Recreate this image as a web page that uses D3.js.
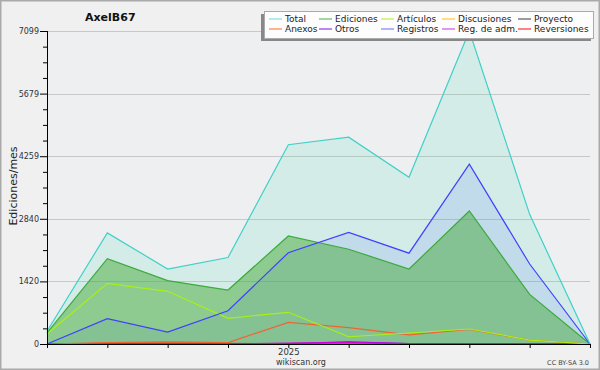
<!DOCTYPE html>
<html><head><meta charset="utf-8">
<script src="https://cdn.jsdelivr.net/npm/d3@7"></script>
<style>body{margin:0;background:#f0f0f0}svg{display:block}text{font-family:"DejaVu Sans",sans-serif}</style>
</head><body><svg id="c" width="600" height="370"></svg>
<script>
const months = ["2024-09","2024-10","2024-11","2024-12","2025-01","2025-02","2025-03","2025-04","2025-05","2025-06"];
const yTickLabels = [0, 1420, 2840, 4259, 5679, 7099];
const total      = [290, 2520, 1700, 1960, 4520, 4690, 3780, 7099, 2940, 0];
const ediciones  = [250, 1935, 1436, 1225, 2450, 2150, 1700, 3016, 1126, 0];
const registros  = [0, 575, 270, 755, 2070, 2530, 2060, 4078, 1814, 0];
const articulos  = [225, 1376, 1195, 583, 719, 165, 250, 340, 90, 0];
const anexos     = [0, 30, 50, 30, 492, 370, 205, 330, 90, 0];
const otros      = [0, 0, 0, 0, 10, 50, 10, 0, 0, 0];
const regAdm     = [0, 0, 0, 0, 20, 30, 10, 5, 0, 0];
const discusiones= [0, 0, 0, 0, 0, 0, 0, 0, 0, 0];
const proyecto   = [0, 0, 0, 0, 0, 0, 0, 0, 0, 0];
const reversiones= [0, 15, 25, 15, 0, 0, 0, 0, 0, 0];
const legendNames = ["Total","Ediciones","Artículos","Discusiones","Proyecto","Anexos","Otros","Registros","Reg. de adm.","Reversiones"];
const legendColors = ["#80e0dc","#64be64","#bef03c","#ffc832","#5a5a5a","#ff8246","#8c3ce6","#8080ff","#d250e6","#ff3232"];

const svg = d3.select("#c");
svg.append("rect").attr("x",0.75).attr("y",0.75).attr("width",598.5).attr("height",368.5)
  .attr("fill","#f0f0f0").attr("stroke","#aaa").attr("stroke-width",1.5);

const x = d3.scalePoint().domain(months).range([47, 590]);
const y = d3.scaleLinear().domain([0, 7099]).range([344, 31]);

svg.append("rect").attr("x",47).attr("y",31).attr("width",543).attr("height",313).attr("fill","#eeeff1");

// grid
svg.append("g").selectAll("line").data(yTickLabels.slice(1)).join("line")
  .attr("x1",47).attr("x2",590).attr("y1",d=>Math.round(y(d))+0.5).attr("y2",d=>Math.round(y(d))+0.5)
  .attr("stroke","#c8c8c8");

const area = vals => d3.area().x((d,i)=>x(months[i])).y0(y(0)).y1(d=>y(d))(vals);
const line = vals => d3.line().x((d,i)=>x(months[i])).y(d=>y(d))(vals);

svg.append("path").attr("d",area(total)).attr("fill","#40e0b0").attr("fill-opacity",0.15);
svg.append("path").attr("d",area(registros)).attr("fill","#4060ff").attr("fill-opacity",0.12);
svg.append("path").attr("d",area(ediciones)).attr("fill","#46aa3c").attr("fill-opacity",0.5);

const series = [
  [discusiones,"#ffc800"],[proyecto,"#555"],[reversiones,"#ff3030"],
  [otros,"#8c00e6"],[regAdm,"#dc00dc"],[anexos,"#f06432"],[articulos,"#aaf014"],
  [ediciones,"#3caa3c"],[registros,"#4040ff"],[total,"#40d0c8"]
];
svg.append("g").selectAll("path").data(series).join("path")
  .attr("d",d=>line(d[0])).attr("fill","none").attr("stroke",d=>d[1]).attr("stroke-width",1.2);

// axes
const minor = d3.range(0,21).map(k=>7099*k/20);
const ay = svg.append("g").attr("transform","translate(47,0)");
ay.call(d3.axisLeft(y).tickValues(minor).tickSize(4).tickFormat(""));
ay.call(g=>g.selectAll(".tick").filter(d=>yTickLabels.some(v=>Math.abs(v-d)<1)).remove());
const ay2 = svg.append("g").attr("transform","translate(47,0)");
ay2.call(d3.axisLeft(y).tickValues(yTickLabels).tickSize(7).tickPadding(1).tickFormat(d=>d));
[ay,ay2].forEach(g=>{g.selectAll("path,line").attr("stroke","#000");g.select(".domain").attr("d","M0.5,31V344");});
ay2.selectAll("text").attr("font-size",8).attr("fill","#333").attr("font-family","DejaVu Sans");

const ax = svg.append("g").attr("transform","translate(0,344)");
ax.call(d3.axisBottom(x).tickSize(4).tickPadding(1).tickFormat(d=>d==="2025-01"?"2025":""));
ax.selectAll("path,line").attr("stroke","#000");
ax.select(".domain").attr("d","M47,0.5H590");
ax.selectAll("text").attr("font-size",8.5).attr("fill","#333").attr("font-family","DejaVu Sans");

svg.append("text").attr("transform","translate(14,186) rotate(-90)").attr("text-anchor","middle")
  .attr("dominant-baseline","middle").attr("font-size",11).attr("fill","#222").text("Ediciones/mes");

svg.append("text").attr("x",85).attr("y",21).attr("font-size",11).attr("font-weight","bold").attr("fill","#111").text("AxelB67");
svg.append("text").attr("x",301).attr("y",365).attr("text-anchor","middle").attr("font-size",8).attr("fill","#333").text("wikiscan.org");
svg.append("text").attr("x",589).attr("y",365).attr("text-anchor","end").attr("font-size",6.5).attr("fill","#444").text("CC BY-SA 3.0");

// legend
svg.append("rect").attr("x",261).attr("y",14).attr("width",330).attr("height",27).attr("fill","#888");
svg.append("rect").attr("x",264.5).attr("y",11.5).attr("width",329).attr("height",27).attr("fill","#fdfdfd").attr("stroke","#aaa");
const colX = [269, 319, 381, 442, 518];
const lg = svg.append("g").selectAll("g").data(legendNames).join("g")
  .attr("transform",(d,i)=>`translate(${colX[i%5]},${i<5?19:29})`);
lg.append("line").attr("x1",0).attr("x2",13).attr("stroke",(d,i)=>legendColors[i]).attr("stroke-width",1.2);
lg.append("text").attr("x",16).attr("dy","0.35em").attr("font-size",9).attr("fill","#222").text(d=>d);
</script></body></html>
